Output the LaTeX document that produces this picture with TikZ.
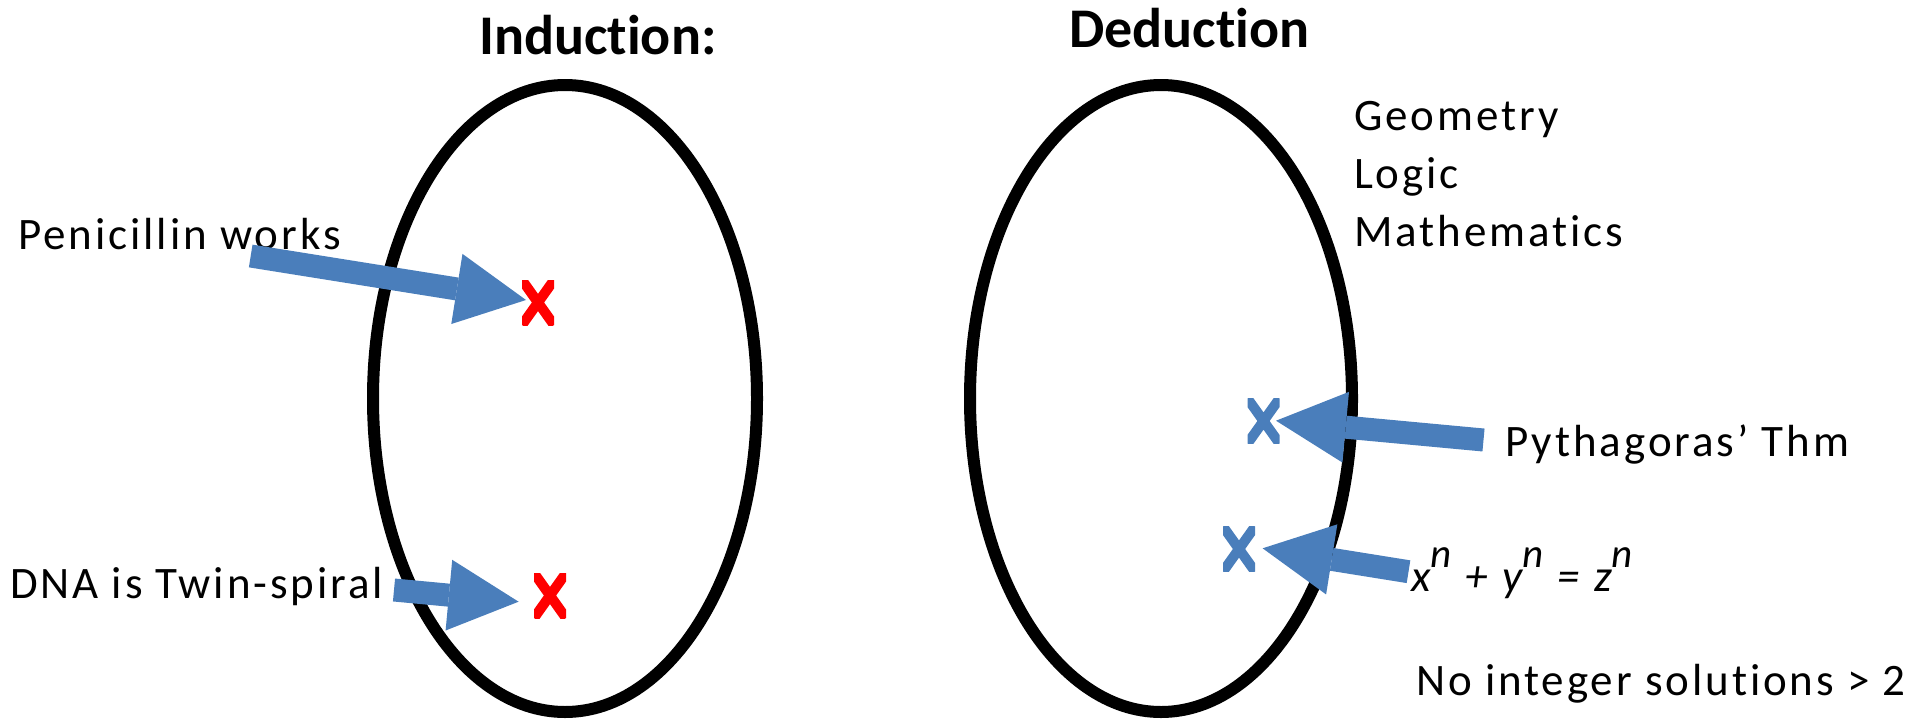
\documentclass[tikz,border=0pt]{standalone}
\usepackage{fontspec}
\setmainfont{Carlito}[LetterSpace=6.5, Ligatures=NoCommon]
\newfontfamily\headfont{Carlito}[Ligatures=NoCommon]
\usetikzlibrary{arrows.meta}

\definecolor{arrowblue}{RGB}{74,126,187}
\definecolor{markred}{RGB}{255,0,0}

% raised exponent for the Fermat equation
\newcommand\expn{\raisebox{0.52em}{\fontsize{41}{46}\selectfont n}}

\tikzset{
  body/.style={anchor=base west, inner sep=0pt, font=\fontsize{45}{54}\selectfont},
  heading/.style={anchor=base west, inner sep=0pt, font=\headfont\fontsize{56}{64}\selectfont\bfseries},
  oval/.style={draw=black, line width=12pt},
  blockarrow/.style={draw=arrowblue, line width=23pt,
    -{Triangle[length=70pt, width=71pt, line width=0pt]}},
  crossmark/.style={minimum width=32pt, minimum height=45pt, inner sep=0pt,
    path picture={
      \draw[draw=#1, line width=10pt]
        (path picture bounding box.south west) -- (path picture bounding box.north east)
        (path picture bounding box.north west) -- (path picture bounding box.south east);
    }},
}

\begin{document}
\begin{tikzpicture}[x=1pt, y=-1pt]
  \useasboundingbox (0,0) rectangle (1927,718);

  % headings
  \node[heading] (ind) at (479,54) {Induction:};
  \node[heading] (ded) at (1069,47) {Deduction};

  % the two domains
  \draw[oval] (565,398.5) ellipse [x radius=192pt, y radius=313.5pt];
  \draw[oval] (1161,398.5) ellipse [x radius=191pt, y radius=313.5pt];

  % labels
  \node[body] (pen) at (18,249) {Penicillin works};
  \node[body] (dna) at (10,598) {DNA is Twin-spiral};
  \node[body] (geo) at (1354,130) {Geometry};
  \node[body] (logic) at (1354,188) {Logic};
  \node[body] (math) at (1354,246) {Mathematics};
  \node[body] (pyth) at (1505,456) {Pythagoras’ Thm};
  \node[body] (fermat) at (1411,591)
    {\itshape x\expn{} \kern1pt+\kern1pt{} y\expn{} \kern1pt=\kern1pt{} z\expn};
  \node[body] (noint) at (1416,695) {No integer solutions > 2};

  % marks
  \node[crossmark=markred] (x1) at (538,302.5) {};
  \node[crossmark=markred] (x2) at (550,595.5) {};
  \node[crossmark=arrowblue] (x3) at (1263.5,421) {};
  \node[crossmark=arrowblue] (x4) at (1239,549) {};

  % arrow ends
  \coordinate (a1) at (250.7,256);
  \coordinate (h1) at (526,300);
  \coordinate (a2) at (394,590);
  \coordinate (h2) at (518.6,601.7);
  \coordinate (a3) at (1483.5,440);
  \coordinate (h3) at (1276,420.7);
  \coordinate (a4) at (1408.5,571.7);
  \coordinate (h4) at (1262.6,548.3);

  % arrows
  \draw[blockarrow] (a1) -- (h1);
  \draw[blockarrow] (a2) -- (h2);
  \draw[blockarrow] (a3) -- (h3);
  \draw[blockarrow] (a4) -- (h4);
\end{tikzpicture}
\end{document}
